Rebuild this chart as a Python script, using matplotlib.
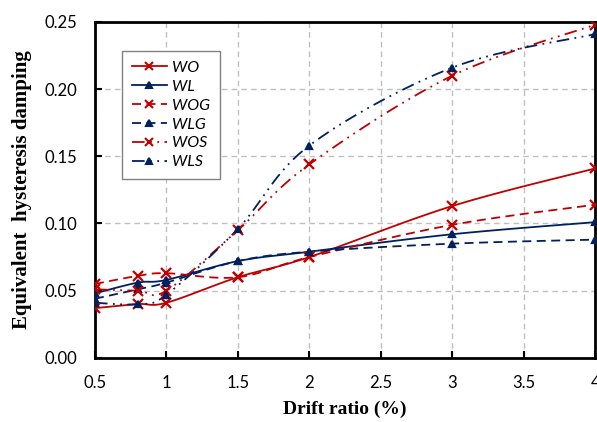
import numpy as np
from matplotlib import pyplot as plt

# drift ratio (%) and equivalent hysteresis damping per specimen
drift = [0.5, 0.8, 1.0, 1.5, 2.0, 3.0, 4.0]
wo = [0.037, 0.040, 0.041, 0.060, 0.075, 0.113, 0.141]
wl = [0.048, 0.056, 0.058, 0.072, 0.079, 0.092, 0.101]
wog = [0.055, 0.061, 0.063, 0.060, 0.075, 0.099, 0.114]
wlg = [0.044, 0.051, 0.056, 0.072, 0.079, 0.085, 0.088]
wos = [0.051, 0.050, 0.050, 0.095, 0.144, 0.210, 0.248]
wls = [0.041, 0.040, 0.047, 0.096, 0.158, 0.216, 0.241]

RED = '#C00000'
NAVY = '#002060'


def smooth(x, y, n=20):
    """Excel style smoothed line: cubic bezier through the points."""
    x = np.asarray(x, float)
    y = np.asarray(y, float)
    p = np.column_stack([x, y])
    out = [p[0]]
    t = np.linspace(0, 1, n)[1:, None]
    for i in range(len(p) - 1):
        p0 = p[i - 1] if i > 0 else p[i]
        p3 = p[i + 2] if i + 2 < len(p) else p[i + 1]
        c1 = p[i] + (p[i + 1] - p0) / 6
        c2 = p[i + 1] - (p3 - p[i]) / 6
        seg = ((1 - t) ** 3 * p[i] + 3 * (1 - t) ** 2 * t * c1
               + 3 * (1 - t) * t ** 2 * c2 + t ** 3 * p[i + 1])
        out.extend(seg)
    out = np.array(out)
    return out[:, 0], out[:, 1]


plt.rcParams['font.family'] = ['Lato', 'DejaVu Sans']

fig = plt.figure(figsize=(5.97, 4.22), dpi=100)
ax = fig.add_axes([0.159, 0.152, 0.838, 0.796])

dashdotdot = (0, (7, 3, 1, 3, 1, 3))
series = [
    ('WO', wo, RED, '-', 'x'),
    ('WL', wl, NAVY, '-', '^'),
    ('WOG', wog, RED, (0, (5, 3)), 'x'),
    ('WLG', wlg, NAVY, (0, (5, 3)), '^'),
    ('WOS', wos, RED, dashdotdot, 'x'),
    ('WLS', wls, NAVY, dashdotdot, '^'),
]

for name, vals, col, ls, mk in series:
    sx, sy = smooth(drift, vals)
    ax.plot(sx, sy, color=col, linestyle=ls, linewidth=1.3, zorder=3)
    ax.plot(drift, vals, linestyle='none', marker=mk, color=col,
            markersize=7 if mk == 'x' else 5, markeredgewidth=1.6, zorder=4)
    ax.plot([], [], color=col, linestyle=ls, linewidth=1.3, marker=mk,
            markersize=6 if mk == 'x' else 4.5, markeredgewidth=1.5, label=name)

ax.set_xlim(0.5, 4)
ax.set_ylim(0, 0.25)
ax.set_xticks(np.arange(0.5, 4.01, 0.5))
ax.set_xticklabels(['0.5', '1', '1.5', '2', '2.5', '3', '3.5', '4'])
ax.set_yticks(np.arange(0, 0.251, 0.05))
ax.set_yticklabels(['0.00', '0.05', '0.10', '0.15', '0.20', '0.25'])
ax.tick_params(direction='in', length=5, width=1.5, labelsize=12)
ax.tick_params(axis='x', pad=12)
ax.tick_params(axis='y', pad=13)
ax.grid(True, linestyle=(0, (4, 3)), color='#BFBFBF', linewidth=1)
for s in ax.spines.values():
    s.set_linewidth(2)

ax.set_xlabel('Drift ratio (%)', family='Liberation Serif', fontweight='bold',
              fontsize=14, labelpad=7)
ax.set_ylabel('Equivalent  hysteresis damping', family='Liberation Serif',
              fontweight='bold', fontsize=15, labelpad=9)

leg = ax.legend(loc='upper left', bbox_to_anchor=(0.054, 0.914),
                borderaxespad=0, prop={'style': 'italic', 'size': 11.5},
                handlelength=2.25, handletextpad=0.3,
                fancybox=False, edgecolor='#808080', framealpha=1,
                borderpad=0.6, labelspacing=0.3)
leg.get_frame().set_linewidth(1)

fig.savefig('out.png', dpi=100)
